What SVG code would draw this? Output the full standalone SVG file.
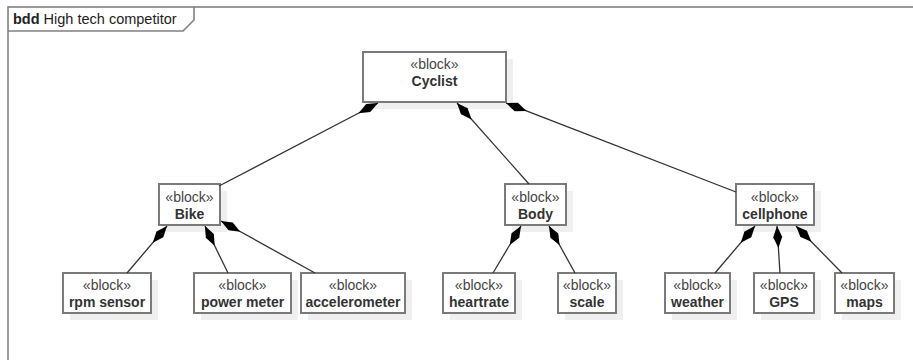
<svg xmlns="http://www.w3.org/2000/svg" width="913" height="360" viewBox="0 0 913 360">
  <style>
    .frame { fill: none; stroke: #808080; stroke-width: 1.6; }
    .shadow { fill: #efefef; stroke: none; }
    .box { fill: #ffffff; stroke: #7a7a7a; stroke-width: 2; }
    .st { font-family: "Liberation Sans", Arial, sans-serif; font-size: 14px; fill: #444; text-anchor: middle; }
    .nm { font-family: "Liberation Sans", Arial, sans-serif; font-size: 14px; font-weight: bold; fill: #333; text-anchor: middle; }
    .tab { font-family: "Liberation Sans", Arial, sans-serif; font-size: 14.5px; fill: #222; }
    .conn { fill: none; stroke: #333; stroke-width: 1.3; marker-start: url(#composite); }
  </style>
  <defs>
    <!-- filled diamond for composite aggregation, drawn at the owner end -->
    <marker id="composite" markerUnits="userSpaceOnUse" viewBox="0 0 22 10" markerWidth="22" markerHeight="10" refX="0" refY="5" orient="auto">
      <path d="M0,5 L11,0.5 L22,5 L11,9.5 Z" fill="#000"/>
    </marker>
  </defs>
  <rect width="913" height="360" fill="#ffffff"/>

  <!-- diagram frame with name tab -->
  <g id="frame">
    <rect class="frame" x="8" y="7" width="920" height="370"/>
    <path class="frame" d="M8,31 H183 L194,20 V7"/>
    <text class="tab" x="13" y="24"><tspan font-weight="bold">bdd</tspan> High tech competitor</text>
  </g>

  <g id="cyclist">
    <rect class="shadow" x="370" y="59" width="143" height="50"/>
    <rect class="box" x="363" y="52" width="143" height="50"/>
    <text class="st" x="434.5" y="69">«block»</text>
    <text class="nm" x="434.5" y="86" font-size="15.5">Cyclist</text>
  </g>

  <g id="bike">
    <rect class="shadow" x="166" y="191" width="61" height="41"/>
    <rect class="box" x="159" y="184" width="61" height="41"/>
    <text class="st" x="189.5" y="202">«block»</text>
    <text class="nm" x="189.5" y="219">Bike</text>
  </g>

  <g id="body">
    <rect class="shadow" x="512" y="191" width="61" height="41"/>
    <rect class="box" x="505" y="184" width="61" height="41"/>
    <text class="st" x="535.5" y="202">«block»</text>
    <text class="nm" x="535.5" y="219">Body</text>
  </g>

  <g id="cellphone">
    <rect class="shadow" x="743" y="191" width="78" height="41"/>
    <rect class="box" x="736" y="184" width="78" height="41"/>
    <text class="st" x="775" y="202">«block»</text>
    <text class="nm" x="775" y="219">cellphone</text>
  </g>

  <g id="rpm-sensor">
    <rect class="shadow" x="70" y="280" width="88" height="40"/>
    <rect class="box" x="63" y="273" width="88" height="40"/>
    <text class="st" x="107" y="290">«block»</text>
    <text class="nm" x="107" y="307">rpm sensor</text>
  </g>

  <g id="power-meter">
    <rect class="shadow" x="201" y="280" width="97" height="40"/>
    <rect class="box" x="194" y="273" width="97" height="40"/>
    <text class="st" x="242.5" y="290">«block»</text>
    <text class="nm" x="242.5" y="307">power meter</text>
  </g>

  <g id="accelerometer">
    <rect class="shadow" x="308" y="280" width="104" height="40"/>
    <rect class="box" x="301" y="273" width="104" height="40"/>
    <text class="st" x="353" y="290">«block»</text>
    <text class="nm" x="353" y="307">accelerometer</text>
  </g>

  <g id="heartrate">
    <rect class="shadow" x="450" y="280" width="72" height="40"/>
    <rect class="box" x="443" y="273" width="72" height="40"/>
    <text class="st" x="479" y="290">«block»</text>
    <text class="nm" x="479" y="307">heartrate</text>
  </g>

  <g id="scale">
    <rect class="shadow" x="565" y="280" width="58" height="40"/>
    <rect class="box" x="558" y="273" width="58" height="40"/>
    <text class="st" x="587" y="290">«block»</text>
    <text class="nm" x="587" y="307">scale</text>
  </g>

  <g id="weather">
    <rect class="shadow" x="672" y="280" width="65" height="40"/>
    <rect class="box" x="665" y="273" width="65" height="40"/>
    <text class="st" x="697.5" y="290">«block»</text>
    <text class="nm" x="697.5" y="307">weather</text>
  </g>

  <g id="gps">
    <rect class="shadow" x="761" y="280" width="60" height="40"/>
    <rect class="box" x="754" y="273" width="60" height="40"/>
    <text class="st" x="784" y="290">«block»</text>
    <text class="nm" x="784" y="307" font-size="15.5">GPS</text>
  </g>

  <g id="maps">
    <rect class="shadow" x="842" y="280" width="59" height="40"/>
    <rect class="box" x="835" y="273" width="59" height="40"/>
    <text class="st" x="864.5" y="290">«block»</text>
    <text class="nm" x="864.5" y="307">maps</text>
  </g>

  <!-- composition connectors, drawn above the block shadows -->
  <g id="connectors">
    <line class="conn" x1="378" y1="103" x2="219" y2="186"/>
    <line class="conn" x1="457" y1="103" x2="529" y2="184"/>
    <line class="conn" x1="506" y1="103" x2="736" y2="192"/>
    <line class="conn" x1="167" y1="226" x2="127" y2="273"/>
    <line class="conn" x1="205" y1="226" x2="228" y2="273"/>
    <line class="conn" x1="221" y1="221" x2="315" y2="273"/>
    <line class="conn" x1="521" y1="226" x2="493" y2="273"/>
    <line class="conn" x1="549" y1="226" x2="575" y2="273"/>
    <line class="conn" x1="755" y1="226" x2="715" y2="273"/>
    <line class="conn" x1="777" y1="226" x2="780" y2="273"/>
    <line class="conn" x1="796" y1="226" x2="842" y2="273"/>
  </g>
</svg>
